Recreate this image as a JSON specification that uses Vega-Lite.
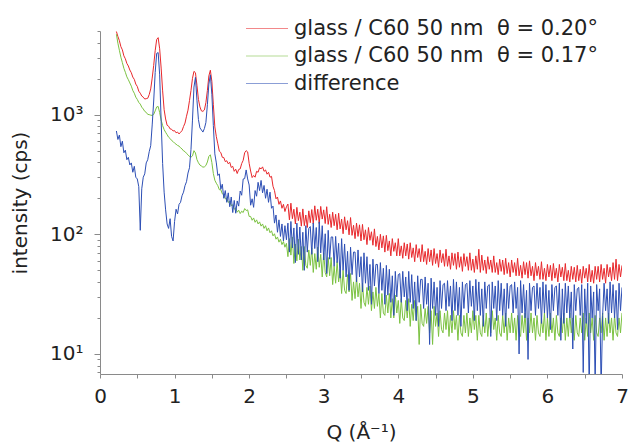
{
  "$schema": "https://vega.github.io/schema/vega-lite/v6.json",
  "width": 522,
  "height": 343,
  "autosize": {"type": "none"},
  "padding": {"left": 100, "top": 31, "right": 7, "bottom": 74},
  "background": "white",
  "config": {"view": {"stroke": null}, "font": "DejaVu Sans"},
  "data": {"values": [
    {"q":0.22,"r":4950,"g":4700,"b":730},{"q":0.24,"r":4500,"g":3950,"b":620},{"q":0.26,"r":4150,"g":3450,"b":675},{"q":0.28,"r":3700,"g":3020,"b":540},{"q":0.30,"r":3480,"g":2720,"b":600},{"q":0.32,"r":3100,"g":2440,"b":480},{"q":0.34,"r":2930,"g":2260,"b":505},{"q":0.36,"r":2680,"g":2070,"b":420},{"q":0.38,"r":2550,"g":1960,"b":440},{"q":0.40,"r":2360,"g":1840,"b":380},
    {"q":0.42,"r":2240,"g":1730,"b":395},{"q":0.44,"r":2060,"g":1590,"b":330},{"q":0.46,"r":1970,"g":1510,"b":370},{"q":0.48,"r":1800,"g":1400,"b":300},{"q":0.50,"r":1720,"g":1340,"b":290},{"q":0.52,"r":1570,"g":1265,"b":250},{"q":0.54,"r":1510,"g":1225,"b":108},{"q":0.56,"r":1430,"g":1155,"b":240},{"q":0.58,"r":1400,"g":1115,"b":300},{"q":0.60,"r":1350,"g":1065,"b":320},
    {"q":0.62,"r":1360,"g":1045,"b":395},{"q":0.64,"r":1370,"g":1005,"b":420},{"q":0.66,"r":1470,"g":1000,"b":490},{"q":0.68,"r":1640,"g":990,"b":550},{"q":0.70,"r":2020,"g":985,"b":820},{"q":0.72,"r":2580,"g":1005,"b":1300},{"q":0.74,"r":3420,"g":1075,"b":2250},{"q":0.76,"r":4250,"g":1160,"b":3250},{"q":0.78,"r":4400,"g":1170,"b":3300},{"q":0.80,"r":3550,"g":1040,"b":2150},
    {"q":0.82,"r":2450,"g":900,"b":880},{"q":0.84,"r":1580,"g":810,"b":390},{"q":0.86,"r":1100,"g":750,"b":225},{"q":0.88,"r":920,"g":712,"b":160},{"q":0.90,"r":815,"g":680,"b":122},{"q":0.92,"r":800,"g":648,"b":112},{"q":0.94,"r":760,"g":632,"b":135},{"q":0.96,"r":755,"g":608,"b":96},{"q":0.98,"r":730,"g":596,"b":88},{"q":1.00,"r":735,"g":578,"b":128},
    {"q":1.02,"r":705,"g":566,"b":162},{"q":1.04,"r":715,"g":553,"b":148},{"q":1.06,"r":690,"g":546,"b":178},{"q":1.08,"r":712,"g":528,"b":185},{"q":1.10,"r":735,"g":517,"b":210},{"q":1.12,"r":795,"g":498,"b":225},{"q":1.14,"r":850,"g":491,"b":255},{"q":1.16,"r":970,"g":474,"b":275},{"q":1.18,"r":1090,"g":462,"b":325},{"q":1.20,"r":1310,"g":447,"b":360},
    {"q":1.22,"r":1590,"g":441,"b":510},{"q":1.24,"r":2010,"g":452,"b":900},{"q":1.26,"r":2300,"g":500,"b":1700},{"q":1.28,"r":2240,"g":478,"b":2050},{"q":1.30,"r":1760,"g":421,"b":1320},{"q":1.32,"r":1340,"g":396,"b":910},{"q":1.34,"r":1160,"g":379,"b":775},{"q":1.36,"r":1075,"g":372,"b":745},{"q":1.38,"r":1065,"g":364,"b":715},{"q":1.40,"r":1095,"g":366,"b":765},
    {"q":1.42,"r":1260,"g":376,"b":860},{"q":1.44,"r":1590,"g":402,"b":1210},{"q":1.46,"r":2110,"g":448,"b":1800},{"q":1.48,"r":2350,"g":462,"b":2150},{"q":1.50,"r":1900,"g":398,"b":1480},{"q":1.52,"r":1210,"g":322,"b":810},{"q":1.54,"r":790,"g":283,"b":470},{"q":1.56,"r":655,"g":267,"b":395},{"q":1.58,"r":570,"g":255,"b":310},{"q":1.60,"r":495,"g":236,"b":320},
    {"q":1.62,"r":482,"g":236,"b":238},{"q":1.64,"r":440,"g":218,"b":262},{"q":1.66,"r":438,"g":215,"b":200},{"q":1.68,"r":405,"g":198,"b":232},{"q":1.70,"r":412,"g":199,"b":185},{"q":1.72,"r":388,"g":185,"b":222},{"q":1.74,"r":400,"g":188,"b":170},{"q":1.76,"r":362,"g":174,"b":205},{"q":1.78,"r":370,"g":176,"b":152},{"q":1.80,"r":336,"g":162,"b":192},
    {"q":1.82,"r":350,"g":166,"b":150},{"q":1.84,"r":322,"g":153,"b":190},{"q":1.86,"r":348,"g":159,"b":172},{"q":1.88,"r":352,"g":149,"b":230},{"q":1.90,"r":390,"g":156,"b":212},{"q":1.92,"r":415,"g":152,"b":290},{"q":1.94,"r":480,"g":164,"b":292},{"q":1.96,"r":500,"g":158,"b":345},{"q":1.98,"r":488,"g":160,"b":290},{"q":2.00,"r":392,"g":141,"b":258},
    {"q":2.02,"r":338,"g":141,"b":175},{"q":2.04,"r":298,"g":131,"b":198},{"q":2.06,"r":310,"g":137,"b":168},{"q":2.08,"r":300,"g":126,"b":232},{"q":2.10,"r":336,"g":132,"b":208},{"q":2.12,"r":330,"g":122,"b":272},{"q":2.14,"r":360,"g":127,"b":232},{"q":2.16,"r":352,"g":117,"b":282},{"q":2.18,"r":366,"g":122,"b":222},{"q":2.20,"r":336,"g":112,"b":256},
    {"q":2.22,"r":345,"g":118,"b":200},{"q":2.24,"r":318,"g":107,"b":238},{"q":2.26,"r":330,"g":113,"b":185},{"q":2.28,"r":300,"g":103,"b":225},{"q":2.30,"r":305,"g":107,"b":165},{"q":2.32,"r":252,"g":97,"b":172},{"q":2.34,"r":232,"g":101,"b":124},{"q":2.36,"r":198,"g":91,"b":145},{"q":2.38,"r":205,"g":95,"b":104},{"q":2.40,"r":178,"g":86,"b":132},
    {"q":2.42,"r":190,"g":91,"b":96},{"q":2.44,"r":165,"g":82,"b":122},{"q":2.46,"r":178,"g":87,"b":88},{"q":2.48,"r":155,"g":78,"b":118},{"q":2.50,"r":170,"g":84,"b":90},
    {"q":2.52,"r":179,"g":65,"b":124},{"q":2.54,"r":132,"g":92,"b":71},{"q":2.56,"r":182,"g":67,"b":128},{"q":2.58,"r":135,"g":95,"b":77},{"q":2.60,"r":162,"g":57,"b":113},{"q":2.62,"r":122,"g":83,"b":58},{"q":2.64,"r":168,"g":60,"b":124},{"q":2.66,"r":130,"g":91,"b":68},{"q":2.68,"r":153,"g":61,"b":115},{"q":2.70,"r":117,"g":79,"b":61},
    {"q":2.72,"r":163,"g":50,"b":104},{"q":2.74,"r":118,"g":79,"b":50},{"q":2.76,"r":145,"g":55,"b":118},{"q":2.78,"r":114,"g":52,"b":71},{"q":2.80,"r":157,"g":74,"b":112},{"q":2.82,"r":125,"g":55,"b":116},{"q":2.84,"r":161,"g":77,"b":68},{"q":2.86,"r":122,"g":48,"b":124},{"q":2.88,"r":173,"g":69,"b":76},{"q":2.90,"r":131,"g":51,"b":114},
    {"q":2.92,"r":162,"g":78,"b":59},{"q":2.94,"r":123,"g":53,"b":127},{"q":2.96,"r":171,"g":68,"b":70},{"q":2.98,"r":134,"g":44,"b":118},{"q":3.00,"r":160,"g":70,"b":61},{"q":3.02,"r":123,"g":48,"b":101},{"q":3.04,"r":170,"g":44,"b":47},{"q":3.06,"r":121,"g":64,"b":108},{"q":3.08,"r":147,"g":45,"b":62},{"q":3.10,"r":114,"g":64,"b":95},
    {"q":3.12,"r":153,"g":38,"b":95},{"q":3.14,"r":118,"g":54,"b":54},{"q":3.16,"r":147,"g":39,"b":96},{"q":3.18,"r":109,"g":59,"b":58},{"q":3.20,"r":150,"g":40,"b":84},{"q":3.22,"r":111,"g":51,"b":43},{"q":3.24,"r":134,"g":32,"b":92},{"q":3.26,"r":101,"g":50,"b":50},{"q":3.28,"r":140,"g":34,"b":83},{"q":3.30,"r":109,"g":32,"b":44},
    {"q":3.32,"r":130,"g":46,"b":72},{"q":3.34,"r":99,"g":33,"b":34},{"q":3.36,"r":138,"g":47,"b":78},{"q":3.38,"r":98,"g":28,"b":46},{"q":3.40,"r":119,"g":40,"b":71},{"q":3.42,"r":92,"g":29,"b":71},{"q":3.44,"r":124,"g":44,"b":40},{"q":3.46,"r":96,"g":30,"b":74},{"q":3.48,"r":120,"g":39,"b":44},{"q":3.50,"r":88,"g":24,"b":65},
    {"q":3.52,"r":121,"g":39,"b":33},{"q":3.54,"r":90,"g":27,"b":70},{"q":3.56,"r":109,"g":25,"b":39},{"q":3.58,"r":82,"g":36,"b":65},{"q":3.60,"r":114,"g":26,"b":34},{"q":3.62,"r":89,"g":37,"b":56},{"q":3.64,"r":105,"g":23,"b":26},{"q":3.66,"r":81,"g":33,"b":62},{"q":3.68,"r":111,"g":24,"b":37},{"q":3.70,"r":79,"g":36,"b":56},
    {"q":3.72,"r":96,"g":25,"b":56},{"q":3.74,"r":74,"g":32,"b":32},{"q":3.76,"r":100,"g":20,"b":58},{"q":3.78,"r":77,"g":32,"b":34},{"q":3.80,"r":97,"g":22,"b":52},{"q":3.82,"r":71,"g":21,"b":26},{"q":3.84,"r":98,"g":31,"b":55},{"q":3.86,"r":73,"g":22,"b":31},{"q":3.88,"r":88,"g":32,"b":51},{"q":3.90,"r":66,"g":20,"b":27},
    {"q":3.92,"r":92,"g":29,"b":45},{"q":3.94,"r":72,"g":20,"b":21},{"q":3.96,"r":85,"g":31,"b":49},{"q":3.98,"r":66,"g":22,"b":30},{"q":4.00,"r":92,"g":28,"b":46},{"q":4.02,"r":66,"g":18,"b":47},{"q":4.04,"r":80,"g":29,"b":27},{"q":4.06,"r":63,"g":20,"b":49},{"q":4.08,"r":85,"g":19,"b":30},{"q":4.10,"r":66,"g":28,"b":44},
    {"q":4.12,"r":83,"g":20,"b":23},{"q":4.14,"r":62,"g":29,"b":49},{"q":4.16,"r":85,"g":17,"b":27},{"q":4.18,"r":64,"g":26,"b":46},{"q":4.20,"r":77,"g":19,"b":24},{"q":4.22,"r":59,"g":28,"b":40},{"q":4.24,"r":82,"g":19,"b":19},{"q":4.26,"r":64,"g":25,"b":45},{"q":4.28,"r":76,"g":12,"b":27},{"q":4.30,"r":59,"g":26,"b":42},
    {"q":4.32,"r":82,"g":18,"b":42},{"q":4.34,"r":59,"g":17,"b":24},{"q":4.36,"r":72,"g":24,"b":44},{"q":4.38,"r":56,"g":18,"b":26},{"q":4.40,"r":76,"g":25,"b":39},{"q":4.42,"r":59,"g":15,"b":12},{"q":4.44,"r":74,"g":23,"b":43},{"q":4.46,"r":55,"g":12,"b":24},{"q":4.48,"r":76,"g":25,"b":40},{"q":4.50,"r":57,"g":17,"b":21},
    {"q":4.52,"r":69,"g":22,"b":36},{"q":4.54,"r":53,"g":14,"b":17},{"q":4.56,"r":74,"g":23,"b":41},{"q":4.58,"r":58,"g":16,"b":24},{"q":4.60,"r":69,"g":15,"b":38},{"q":4.62,"r":54,"g":22,"b":39},{"q":4.64,"r":75,"g":16,"b":23},{"q":4.66,"r":54,"g":23,"b":41},{"q":4.68,"r":66,"g":14,"b":25},{"q":4.70,"r":51,"g":21,"b":37},
    {"q":4.72,"r":70,"g":15,"b":19},{"q":4.74,"r":55,"g":23,"b":42},{"q":4.76,"r":69,"g":16,"b":23},{"q":4.78,"r":51,"g":21,"b":40},{"q":4.80,"r":71,"g":13,"b":21},{"q":4.82,"r":53,"g":21,"b":36},{"q":4.84,"r":65,"g":15,"b":17},{"q":4.86,"r":49,"g":14,"b":40},{"q":4.88,"r":69,"g":21,"b":24},{"q":4.90,"r":54,"g":15,"b":38},
    {"q":4.92,"r":65,"g":22,"b":39},{"q":4.94,"r":50,"g":14,"b":22},{"q":4.96,"r":70,"g":20,"b":41},{"q":4.98,"r":50,"g":15,"b":25},{"q":5.00,"r":62,"g":23,"b":37},{"q":5.02,"r":48,"g":16,"b":19},{"q":5.04,"r":66,"g":21,"b":42},{"q":5.06,"r":51,"g":13,"b":23},{"q":5.08,"r":75,"g":21,"b":40},{"q":5.10,"r":48,"g":15,"b":21},
    {"q":5.12,"r":67,"g":14,"b":35},{"q":5.14,"r":50,"g":21,"b":17},{"q":5.16,"r":61,"g":15,"b":40},{"q":5.18,"r":47,"g":22,"b":24},{"q":5.20,"r":65,"g":14,"b":37},{"q":5.22,"r":51,"g":20,"b":38},{"q":5.24,"r":61,"g":15,"b":14},{"q":5.26,"r":48,"g":23,"b":40},{"q":5.28,"r":66,"g":16,"b":24},{"q":5.30,"r":48,"g":20,"b":37},
    {"q":5.32,"r":58,"g":13,"b":19},{"q":5.34,"r":46,"g":21,"b":41},{"q":5.36,"r":62,"g":15,"b":23},{"q":5.38,"r":49,"g":14,"b":39},{"q":5.40,"r":61,"g":21,"b":21},{"q":5.42,"r":46,"g":15,"b":35},{"q":5.44,"r":63,"g":22,"b":17},{"q":5.46,"r":47,"g":13,"b":39},{"q":5.48,"r":58,"g":20,"b":24},{"q":5.50,"r":44,"g":15,"b":37},
    {"q":5.52,"r":61,"g":22,"b":38},{"q":5.54,"r":48,"g":15,"b":22},{"q":5.56,"r":58,"g":20,"b":40},{"q":5.58,"r":45,"g":13,"b":24},{"q":5.60,"r":63,"g":21,"b":36},{"q":5.62,"r":45,"g":15,"b":10},{"q":5.64,"r":55,"g":14,"b":41},{"q":5.66,"r":43,"g":21,"b":22},{"q":5.68,"r":59,"g":15,"b":38},{"q":5.70,"r":46,"g":22,"b":20},
    {"q":5.72,"r":58,"g":13,"b":34},{"q":5.74,"r":43,"g":20,"b":9},{"q":5.76,"r":60,"g":15,"b":39},{"q":5.78,"r":45,"g":22,"b":23},{"q":5.80,"r":54,"g":15,"b":36},{"q":5.82,"r":41,"g":20,"b":37},{"q":5.84,"r":58,"g":13,"b":21},{"q":5.86,"r":45,"g":21,"b":39},{"q":5.88,"r":54,"g":15,"b":24},{"q":5.90,"r":42,"g":14,"b":36},
    {"q":5.92,"r":59,"g":20,"b":18},{"q":5.94,"r":42,"g":15,"b":40},{"q":5.96,"r":52,"g":22,"b":22},{"q":5.98,"r":41,"g":13,"b":38},{"q":6.00,"r":56,"g":20,"b":20},{"q":6.02,"r":44,"g":14,"b":34},{"q":6.04,"r":55,"g":22,"b":16},{"q":6.06,"r":41,"g":15,"b":38},{"q":6.08,"r":57,"g":20,"b":23},{"q":6.10,"r":43,"g":13,"b":36},
    {"q":6.12,"r":52,"g":21,"b":37},{"q":6.14,"r":40,"g":15,"b":21},{"q":6.16,"r":56,"g":14,"b":39},{"q":6.18,"r":44,"g":20,"b":13},{"q":6.20,"r":53,"g":15,"b":35},{"q":6.22,"r":41,"g":22,"b":18},{"q":6.24,"r":57,"g":13,"b":39},{"q":6.26,"r":41,"g":20,"b":22},{"q":6.28,"r":50,"g":14,"b":37},{"q":6.30,"r":40,"g":22,"b":20},
    {"q":6.32,"r":54,"g":15,"b":33},{"q":6.34,"r":42,"g":20,"b":11},{"q":6.36,"r":53,"g":13,"b":38},{"q":6.38,"r":40,"g":21,"b":23},{"q":6.40,"r":55,"g":15,"b":35},{"q":6.42,"r":41,"g":14,"b":36},{"q":6.44,"r":51,"g":20,"b":21},{"q":6.46,"r":39,"g":15,"b":38},{"q":6.48,"r":54,"g":22,"b":7},{"q":6.50,"r":43,"g":13,"b":35},
    {"q":6.52,"r":52,"g":20,"b":18},{"q":6.54,"r":40,"g":14,"b":39},{"q":6.56,"r":56,"g":22,"b":5},{"q":6.58,"r":40,"g":15,"b":37},{"q":6.60,"r":50,"g":20,"b":20},{"q":6.62,"r":39,"g":13,"b":33},{"q":6.64,"r":54,"g":21,"b":5.5},{"q":6.66,"r":42,"g":15,"b":38},{"q":6.68,"r":54,"g":14,"b":23},{"q":6.70,"r":40,"g":20,"b":35},
    {"q":6.72,"r":56,"g":15,"b":5},{"q":6.74,"r":42,"g":22,"b":21},{"q":6.76,"r":52,"g":13,"b":39},{"q":6.78,"r":39,"g":20,"b":23},{"q":6.80,"r":56,"g":14,"b":35},{"q":6.82,"r":44,"g":22,"b":18},{"q":6.84,"r":53,"g":15,"b":40},{"q":6.86,"r":41,"g":20,"b":22},{"q":6.88,"r":58,"g":13,"b":38},{"q":6.90,"r":42,"g":21,"b":20},
    {"q":6.92,"r":62,"g":15,"b":34},{"q":6.94,"r":41,"g":14,"b":16},{"q":6.96,"r":56,"g":20,"b":39},{"q":6.98,"r":44,"g":15,"b":23},{"q":7.00,"r":55,"g":22,"b":36}
  ]},
  "transform": [{"fold": ["r", "g", "b"], "as": ["series", "value"]}],
  "mark": {"type": "line", "strokeWidth": 1, "clip": true, "interpolate": "linear"},
  "encoding": {
    "x": {
      "field": "q", "type": "quantitative",
      "scale": {"domain": [0, 7], "nice": false, "zero": false},
      "axis": {
        "title": "Q (Å⁻¹)",
        "values": [0, 0.5, 1, 1.5, 2, 2.5, 3, 3.5, 4, 4.5, 5, 5.5, 6, 6.5, 7],
        "labelExpr": "datum.value % 1 == 0 ? format(datum.value, 'd') : ''",
        "labelOverlap": false, "labelFlush": false,
        "grid": false, "domainColor": "#8a8a8a", "tickColor": "#8a8a8a", "tickSize": 4,
        "labelFontSize": 20, "labelColor": "#222", "labelPadding": 8, "labelFont": "DejaVu Sans",
        "titleFontSize": 20, "titleFontWeight": "normal", "titleColor": "#222", "titlePadding": 16, "titleFont": "DejaVu Sans"
      }
    },
    "y": {
      "field": "value", "type": "quantitative",
      "scale": {"type": "log", "domain": [6.8, 5000], "nice": false},
      "axis": {
        "title": "intensity (cps)",
        "values": [7, 8, 9, 10, 20, 30, 40, 50, 60, 70, 80, 90, 100, 200, 300, 400, 500, 600, 700, 800, 900, 1000, 2000, 3000, 4000, 5000],
        "labelExpr": "datum.value == 10 ? '10¹' : datum.value == 100 ? '10²' : datum.value == 1000 ? '10³' : ''",
        "labelOverlap": false, "labelFlush": false,
        "grid": false, "domainColor": "#8a8a8a", "tickColor": "#8a8a8a",
        "tickSize": {"condition": {"test": "datum.value == 10 || datum.value == 100 || datum.value == 1000", "value": 6}, "value": 3},
        "labelFontSize": 20, "labelColor": "#222", "labelPadding": 11, "labelFont": "DejaVu Sans",
        "titleFontSize": 20, "titleFontWeight": "normal", "titleColor": "#222", "titlePadding": 19, "titleFont": "DejaVu Sans"
      }
    },
    "color": {
      "field": "series", "type": "nominal",
      "scale": {"domain": ["r", "g", "b"], "range": ["#e8282c", "#7cc242", "#2d4fb5"]},
      "legend": {
        "orient": "none", "legendX": 145, "legendY": -13, "title": null,
        "symbolType": "stroke", "symbolSize": 1764, "symbolStrokeWidth": 1.2, "symbolOpacity": 0.55,
        "clipHeight": 21, "rowPadding": 5.5, "padding": 0,
        "labelFontSize": 21, "labelFont": "DejaVu Sans", "labelColor": "#222", "labelOffset": 5, "labelLimit": 500,
        "labelExpr": "datum.value == 'r' ? 'glass / C60 50 nm\u00a0\u00a0θ = 0.20°' : datum.value == 'g' ? 'glass / C60 50 nm\u00a0\u00a0θ = 0.17°' : 'difference'"
      }
    },
    "order": {"field": "q", "type": "quantitative"}
  }
}
